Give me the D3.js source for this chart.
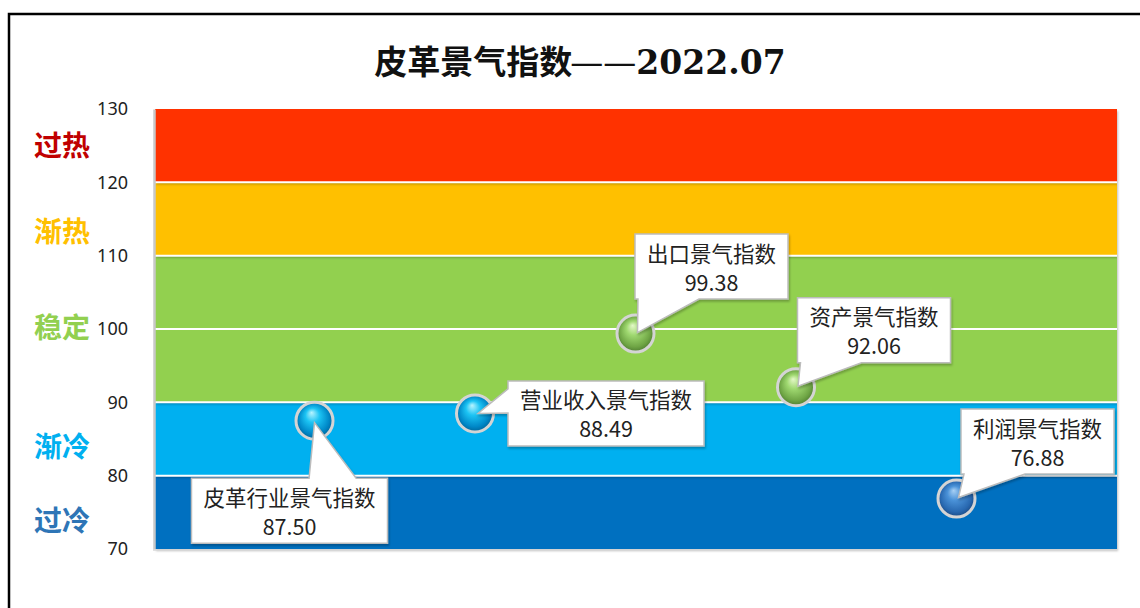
<!DOCTYPE html>
<html>
<head>
<meta charset="utf-8">
<script src="https://cdn.jsdelivr.net/npm/d3@7"></script>
<style>
  html, body { margin: 0; padding: 0; background: #fff; }
  svg { display: block; }
</style>
</head>
<body>
<div id="chart"></div>
<script>
// Zone bands (low .. high) and their labels
const bandNames  = ['过冷', '渐冷', '稳定', '渐热', '过热'];
const bandLows   = [70, 80, 90, 110, 120];
const bandHighs  = [80, 90, 110, 120, 130];
const bandColors = ['#0070C0', '#00B0F0', '#92D050', '#FFC000', '#FF3300'];
const labelColors = ['#2E75B6', '#00B0F0', '#92D050', '#FFC000', '#C00000'];
const labelValues = [73.8, 83.9, 100.1, 113.2, 125];

// Index points
const pointNames  = ['皮革行业景气指数', '营业收入景气指数', '出口景气指数', '资产景气指数', '利润景气指数'];
const pointX      = [1, 2, 3, 4, 5];
const pointValues = [87.50, 88.49, 99.38, 92.06, 76.88];
const pointTone   = ['cyan', 'cyan', 'green', 'green', 'blue'];

const yTicks = [70, 80, 90, 100, 110, 120, 130];

// callout placement relative to its bubble
const calloutDx   = [-25, 131, 76, 78, 81];
const calloutDy   = [90, 0, -67, -57, -57];
const pointerSide = ['top', 'left', 'bottom', 'bottom', 'bottom'];

const width = 1140, height = 608;
const plot = { left: 155, right: 1117, top: 109, bottom: 549 };

const svg = d3.select('#chart').append('svg')
    .attr('width', width)
    .attr('height', height);

const defs = svg.append('defs');

const tones = {
    cyan:  ['#b8f4ff', '#1cc4f4', '#0088c8', '#005a8c'],
    green: ['#e4f8c8', '#9fd870', '#6fa545', '#44702a'],
    blue:  ['#a8d0f4', '#4a92d8', '#2868b0', '#163f74']
};
Object.entries(tones).forEach(([key, c]) => {
    const grad = defs.append('radialGradient')
        .attr('id', 'ball-' + key)
        .attr('cx', '50%').attr('cy', '50%').attr('r', '55%')
        .attr('fx', '42%').attr('fy', '28%');
    grad.append('stop').attr('offset', '0%').attr('stop-color', c[0]);
    grad.append('stop').attr('offset', '35%').attr('stop-color', c[1]);
    grad.append('stop').attr('offset', '75%').attr('stop-color', c[2]);
    grad.append('stop').attr('offset', '100%').attr('stop-color', c[3]);
});

const shadow = defs.append('filter').attr('id', 'shadow')
    .attr('x', '-5%').attr('y', '-5%').attr('width', '110%').attr('height', '120%');
shadow.append('feDropShadow')
    .attr('dx', 1).attr('dy', 2).attr('stdDeviation', 1.2)
    .attr('flood-color', '#000').attr('flood-opacity', 0.25);

// outer frame (cut by the window on the right and bottom)
svg.append('rect')
    .attr('x', 9).attr('y', 14)
    .attr('width', 1160).attr('height', 620)
    .attr('fill', 'none')
    .attr('stroke', '#000')
    .attr('stroke-width', 2.5);

// title
const title = svg.append('text')
    .attr('x', 580).attr('y', 74)
    .attr('text-anchor', 'middle')
    .style('font-family', '"DejaVu Serif", "Noto Sans CJK SC", serif')
    .style('font-weight', 'bold')
    .style('font-size', '33px')
    .attr('fill', '#111');
title.append('tspan').text('皮革景气指数');
title.append('tspan').style('font-weight', 'normal').attr('dx', -2).text('——');
title.append('tspan').text('2022.07');

const x = d3.scaleLinear().domain([0, 6]).range([plot.left - 1, plot.right]);
const y = d3.scaleLinear().domain([70, 130]).range([plot.bottom, plot.top]);

// bands
svg.append('g')
    .selectAll('rect')
    .data(bandLows)
    .join('rect')
    .attr('x', plot.left)
    .attr('y', (d, i) => y(bandHighs[i]))
    .attr('width', plot.right - plot.left)
    .attr('height', (d, i) => y(d) - y(bandHighs[i]))
    .attr('fill', (d, i) => bandColors[i])
    .attr('filter', 'url(#shadow)');

// white gridlines
svg.append('g')
    .selectAll('line')
    .data(yTicks.filter(t => t > 70 && t < 130))
    .join('line')
    .attr('x1', plot.left).attr('x2', plot.right)
    .attr('y1', d => y(d)).attr('y2', d => y(d))
    .attr('stroke', '#fff')
    .attr('stroke-width', 2);

// left axis
const yAxis = svg.append('g')
    .attr('transform', `translate(${plot.left - 1},0)`)
    .call(d3.axisLeft(y).tickValues(yTicks).tickSize(0).tickPadding(26));
yAxis.select('.domain').attr('stroke', '#c8c8c8').attr('stroke-width', 2.5);
yAxis.selectAll('text')
    .style('font-family', '"Noto Sans", "DejaVu Sans", sans-serif')
    .style('font-size', '18px')
    .attr('fill', '#222');

// bottom axis line
svg.append('line')
    .attr('x1', plot.left - 2).attr('x2', plot.right)
    .attr('y1', plot.bottom + 1).attr('y2', plot.bottom + 1)
    .attr('stroke', '#d8d8d8')
    .attr('stroke-width', 1.5);

// zone labels
svg.append('g')
    .selectAll('text')
    .data(bandNames)
    .join('text')
    .attr('x', 34)
    .attr('y', (d, i) => y(labelValues[i]))
    .attr('dy', '0.36em')
    .style('font-family', '"Noto Sans CJK SC", sans-serif')
    .style('font-weight', 'bold')
    .style('font-size', '28px')
    .attr('fill', (d, i) => labelColors[i])
    .text(d => d);

// bubbles
svg.append('g')
    .selectAll('circle')
    .data(pointValues)
    .join('circle')
    .attr('cx', (d, i) => x(pointX[i]))
    .attr('cy', d => y(d))
    .attr('r', 18.5)
    .attr('fill', (d, i) => `url(#ball-${pointTone[i]})`)
    .attr('stroke', '#d4d4d4')
    .attr('stroke-width', 3);

// callouts
const boxH = 65;
const callouts = svg.append('g');

pointValues.forEach((v, i) => {
    const px = x(pointX[i]), py = y(v);
    const g = callouts.append('g');

    const path = g.append('path')
        .attr('fill', '#fff')
        .attr('stroke', '#bcbcbc')
        .attr('stroke-width', 1.5)
        .attr('filter', 'url(#shadow)');

    const t1 = g.append('text')
        .attr('text-anchor', 'middle')
        .style('font-family', '"Noto Sans CJK SC", sans-serif')
        .style('font-size', '21.5px')
        .attr('fill', '#222')
        .text(pointNames[i]);
    const t2 = g.append('text')
        .attr('text-anchor', 'middle')
        .style('font-family', '"Noto Sans CJK SC", sans-serif')
        .style('font-size', '21.5px')
        .attr('fill', '#222')
        .text(d3.format('.2f')(v));

    const w = t1.node().getComputedTextLength() + 24;
    const cx = px + calloutDx[i], cy = py + calloutDy[i];
    const x0 = cx - w / 2, x1 = cx + w / 2;
    const y0 = cy - boxH / 2, y1 = cy + boxH / 2;

    t1.attr('x', cx).attr('y', cy - 5);
    t2.attr('x', cx).attr('y', cy + 24);

    let pts;
    if (pointerSide[i] === 'top') {
        pts = [[x0, y0], [x0 + w * 0.6, y0], [px, py + 2], [x0 + w * 0.84, y0],
               [x1, y0], [x1, y1], [x0, y1]];
    } else if (pointerSide[i] === 'left') {
        pts = [[x0, y0], [x1, y0], [x1, y1], [x0, y1],
               [x0, y0 + 32], [px + 3, py], [x0, y0 + 8]];
    } else {
        pts = [[x0, y0], [x1, y0], [x1, y1], [x0 + 64, y1],
               [px + 2, py - 1], [x0 + 3, y1], [x0, y1]];
    }
    path.attr('d', d3.line()(pts) + 'Z');
});
</script>
</body>
</html>
